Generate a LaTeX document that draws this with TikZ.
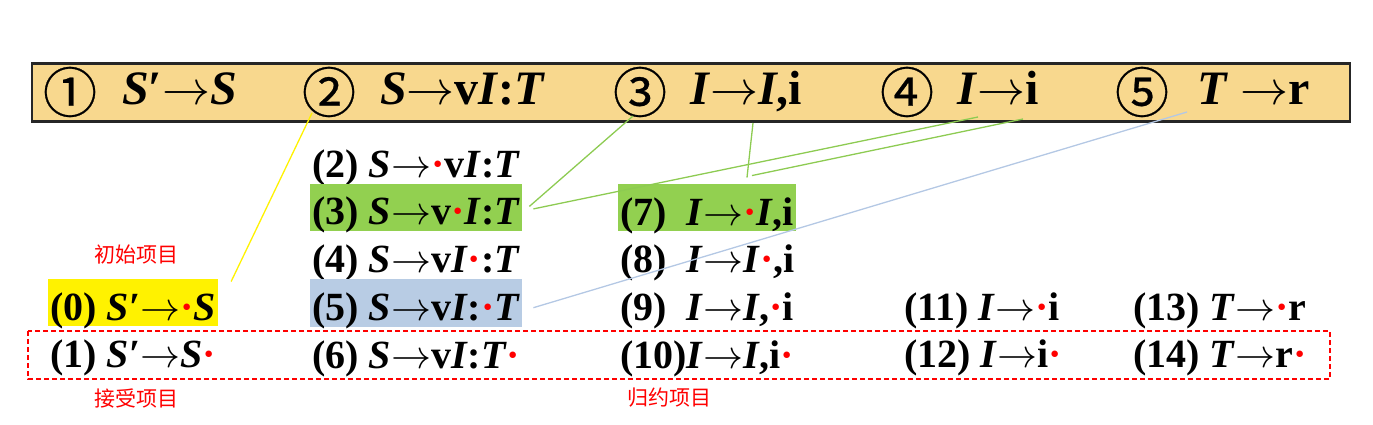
\RequirePackage{fix-cm}
\documentclass[tikz,border=0pt]{standalone}
\usepackage{fontspec}
\setmainfont{Liberation Serif}
\newfontfamily\cjk{Noto Sans CJK SC}
\newfontfamily\circfont[FakeBold=0.5]{Noto Sans CJK SC}
\usetikzlibrary{positioning,calc}
\definecolor{barfill}{HTML}{F8D88E}
\definecolor{itemgreen}{HTML}{92D050}
\definecolor{itemblue}{HTML}{B8CCE4}
\definecolor{linegreen}{HTML}{8DCB52}
\definecolor{lineblue}{HTML}{B4C8E4}
\newcommand{\rd}{\textcolor{red}{·}}
\newcommand{\ar}{{\ensuremath{\mathord{\rightarrow}}}}

\begin{document}
\begin{tikzpicture}[x=1pt,y=-1pt,
                    bar/.style={draw=black!85,line width=2.2pt,fill=barfill,minimum width=1318pt,minimum height=58pt},
                    num/.style={font=\circfont\fontsize{54}{58}\selectfont,inner sep=0pt},
                    rule/.style={anchor=base west,inner sep=0pt,font=\fontsize{48}{52}\selectfont\bfseries},
                    item/.style={inner xsep=2pt,inner ysep=3.25pt,text height=38pt,text depth=3pt,font=\fontsize{40}{44}\selectfont\bfseries},
                    tag/.style={text=red,font=\cjk\fontsize{21}{24}\selectfont},
                    link/.style={line width=1.3pt}]
\useasboundingbox (0,0) rectangle (1373,425);
%%%%% productions
\node[bar] (bar) at (691,92.5) {};
\node[num] (c1) at (70,92) {①};
\node[num] (c2) at (329,92) {②};
\node[num] (c3) at (640,92) {③};
\node[num] (c4) at (907,92) {④};
\node[num] (c5) at (1142,92) {⑤};
\node[rule] (r1) at (122,105) {\textit{S}′\ar\textit{S}};
\node[rule] (r2) at (380,105) {\textit{S}\ar v\textit{I}:\textit{T}};
\node[rule] (r3) at (690,105) {\textit{I}\ar\textit{I},i};
\node[rule] (r4) at (957,105) {\textit{I}\ar i};
\node[rule] (r5) at (1197,105) {\textit{T} \ar r};
%%%%% items
\node[item,anchor=base west,fill=yellow] (i0) at (48,320) {(0) \textit{S}′\ar\rd\textit{S}};
\node[item,below right=0pt and 0pt of i0.south west] (i1) {(1) \textit{S}′\ar\textit{S}\rd};
\node[item,anchor=base west] (i2) at (310,177) {(2) \textit{S}\ar\rd v\textit{I}:\textit{T}};
\node[item,below right=0pt and 0pt of i2.south west,fill=itemgreen] (i3) {(3) \textit{S}\ar v\rd\textit{I}:\textit{T}};
\node[item,below right=0pt and 0pt of i3.south west] (i4) {(4) \textit{S}\ar v\textit{I}\rd:\textit{T}};
\node[item,below right=0pt and 0pt of i4.south west,fill=itemblue] (i5) {(5) \textit{S}\ar v\textit{I}:\rd\textit{T}};
\node[item,below right=0pt and 0pt of i5.south west] (i6) {(6) \textit{S}\ar v\textit{I}:\textit{T}\rd};
\node[item,anchor=base west,fill=itemgreen] (i7) at (618,225) {(7)\ \ \textit{I}\ar\rd\textit{I},i};
\node[item,below right=0pt and 0pt of i7.south west] (i8) {(8)\ \ \textit{I}\ar\textit{I}\rd,i};
\node[item,below right=0pt and 0pt of i8.south west] (i9) {(9)\ \ \textit{I}\ar\textit{I},\rd i};
\node[item,below right=0pt and 0pt of i9.south west] (i10) {(10)\textit{I}\ar\textit{I},i\rd};
\node[item,anchor=base west] (i11) at (902,320) {(11) \textit{I}\ar\rd i};
\node[item,below right=0pt and 0pt of i11.south west] (i12) {(12) \textit{I}\ar i\rd};
\node[item,anchor=base west] (i13) at (1131,320) {(13) \textit{T}\ar\rd r};
\node[item,below right=0pt and 0pt of i13.south west] (i14) {(14) \textit{T}\ar r\rd};
%%%%% tags
\node[tag] (t0) at (136,255) {初始项目};
\node[tag] (t1) at (136,398) {接受项目};
\node[tag] (t2) at (669,398) {归约项目};
\draw[red,line width=1.4pt,dash pattern=on 5pt off 3pt] (28,331) rectangle (1330,379);
%%%%% links
\draw[link,yellow] ($(c2.center)+(-17,21)$) -- ($(i0.north east)+(13,3)$);
\draw[link,linegreen] ($(c3.center)+(-7,24)$) -- ($(i3.east)+(7,-1)$);
\draw[link,linegreen] ($(r4.base west)+(21,12)$) -- ($(i3.east)+(11,1.5)$);
\draw[link,linegreen] ($(r4.base west)+(66,14)$) -- ($(i7.north west)+(134,-8)$);
\draw[link,linegreen] ($(r3.base west)+(63,18)$) -- ($(i7.north west)+(129,-6)$);
\draw[link,lineblue] ($(r5.base west)+(-10,7)$) -- ($(i5.east)+(11,4.5)$);
\end{tikzpicture}
\end{document}
